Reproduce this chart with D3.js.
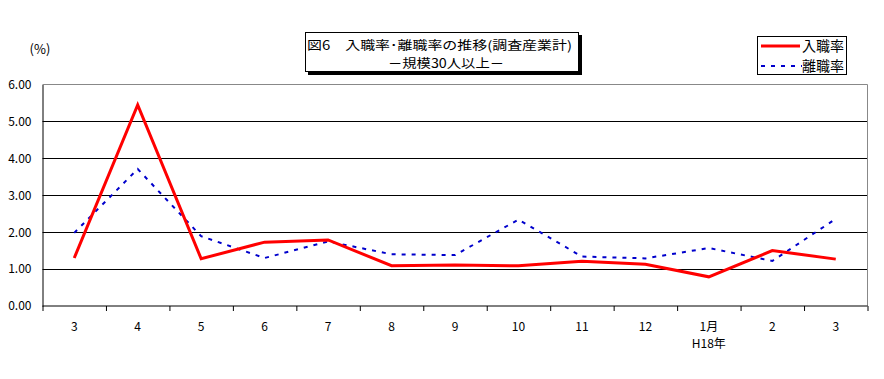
<!DOCTYPE html>
<html><head><meta charset="utf-8">
<script src="https://cdn.jsdelivr.net/npm/d3@7"></script>
<style>body{margin:0;background:#fff;} text{font-family:"Noto Sans CJK JP","DejaVu Sans",sans-serif;}</style>
</head><body>
<svg id="c" width="884" height="379"></svg>
<script>
const categories = ["3","4","5","6","7","8","9","10","11","12","1月","2","3"];
const subLabels = ["","","","","","","","","","","H18年","",""];
const hireRate = [1.30,5.45,1.28,1.73,1.79,1.09,1.11,1.09,1.21,1.13,0.79,1.50,1.27];
const sepRate  = [1.98,3.71,1.89,1.30,1.75,1.40,1.38,2.34,1.34,1.29,1.57,1.22,2.36];
const yTicks = [0,1,2,3,4,5,6];
const seriesNames = ["入職率","離職率"];
const titleLines = ["図6　入職率･離職率の推移(調査産業計)","－規模30人以上－"];

const svg = d3.select("#c");
const L=42.5, R=867.5, T=84.5, B=306;
const idx = categories.map((d,i)=>i);
const x = d3.scaleBand().domain(idx).range([L,R]);
const y = d3.scaleLinear().domain([0,6]).range([B,T]);
const cx = i => x(i)+x.bandwidth()/2;

// gridlines
svg.append("g").selectAll("line").data(yTicks.filter(d=>d>0&&d<6)).join("line")
  .attr("x1",L).attr("x2",R).attr("y1",d=>Math.round(y(d))+0.5).attr("y2",d=>Math.round(y(d))+0.5)
  .attr("stroke","#000").attr("stroke-width",1);
// plot border top/right grey
svg.append("path").attr("d",`M${L},${T}H${R}V${B}`).attr("fill","none").attr("stroke","#888").attr("stroke-width",1);

// y axis
const yAxis = d3.axisLeft(y).tickValues(yTicks).tickFormat(d3.format(".2f")).tickSize(0).tickPadding(11);
const gy = svg.append("g").attr("transform",`translate(${L},0)`).call(yAxis);
gy.select(".domain").attr("stroke","#000");
gy.selectAll("text").attr("font-size",12).attr("fill","#000");
svg.append("text").attr("x",40).attr("y",54).attr("text-anchor","middle").attr("font-size",13).text("(%)");

// x axis
const xb = d3.scaleLinear().domain([0,categories.length]).range([L,R]);
const xAxis = d3.axisBottom(xb).tickValues(d3.range(0,categories.length+1)).tickSize(5).tickFormat("");
const gx = svg.append("g").attr("transform",`translate(0,${B})`).call(xAxis);
gx.select(".domain").attr("stroke","#000").attr("d",`M${L},0H${R}`);
gx.selectAll(".tick line").attr("stroke","#000");
svg.append("g").selectAll("text").data(idx).join("text")
  .attr("x",cx).attr("y",331).attr("text-anchor","middle").attr("font-size",12).text(i=>categories[i]);
svg.append("g").selectAll("text").data(idx.filter(i=>subLabels[i])).join("text")
  .attr("x",cx).attr("y",348).attr("text-anchor","middle").attr("font-size",12).text(i=>subLabels[i]);

// lines
const line = d3.line().x((d,i)=>cx(i)).y(d=>y(d));
svg.append("path").datum(sepRate).attr("d",line).attr("fill","none").attr("stroke","#0000cc")
  .attr("stroke-width",2).attr("stroke-dasharray","4,6");
svg.append("path").datum(hireRate).attr("d",line).attr("fill","none").attr("stroke","#ff0000")
  .attr("stroke-width",3).attr("stroke-linejoin","miter");

// title box
svg.append("rect").attr("x",308).attr("y",35).attr("width",274).attr("height",40).attr("fill","#000");
svg.append("rect").attr("x",305.5).attr("y",32.5).attr("width",273).attr("height",39).attr("fill","#fff").attr("stroke","#000");
svg.append("text").attr("x",307).attr("y",50).attr("font-size",12.5)
  .attr("textLength",265).attr("lengthAdjust","spacingAndGlyphs").text(titleLines[0]);
svg.append("text").attr("x",388).attr("y",68).attr("font-size",12.5)
  .attr("textLength",116).attr("lengthAdjust","spacingAndGlyphs").text(titleLines[1]);

// legend
svg.append("rect").attr("x",757.5).attr("y",36.5).attr("width",89).attr("height",38).attr("fill","#fff").attr("stroke","#000");
svg.append("line").attr("x1",761).attr("x2",800).attr("y1",46).attr("y2",46).attr("stroke","#ff0000").attr("stroke-width",3);
svg.append("line").attr("x1",761).attr("x2",802).attr("y1",66).attr("y2",66).attr("stroke","#0000cc").attr("stroke-width",2).attr("stroke-dasharray","4,6");
svg.append("text").attr("x",802).attr("y",51).attr("font-size",14).text(seriesNames[0]);
svg.append("text").attr("x",802).attr("y",71).attr("font-size",14).text(seriesNames[1]);
</script>
</body></html>
